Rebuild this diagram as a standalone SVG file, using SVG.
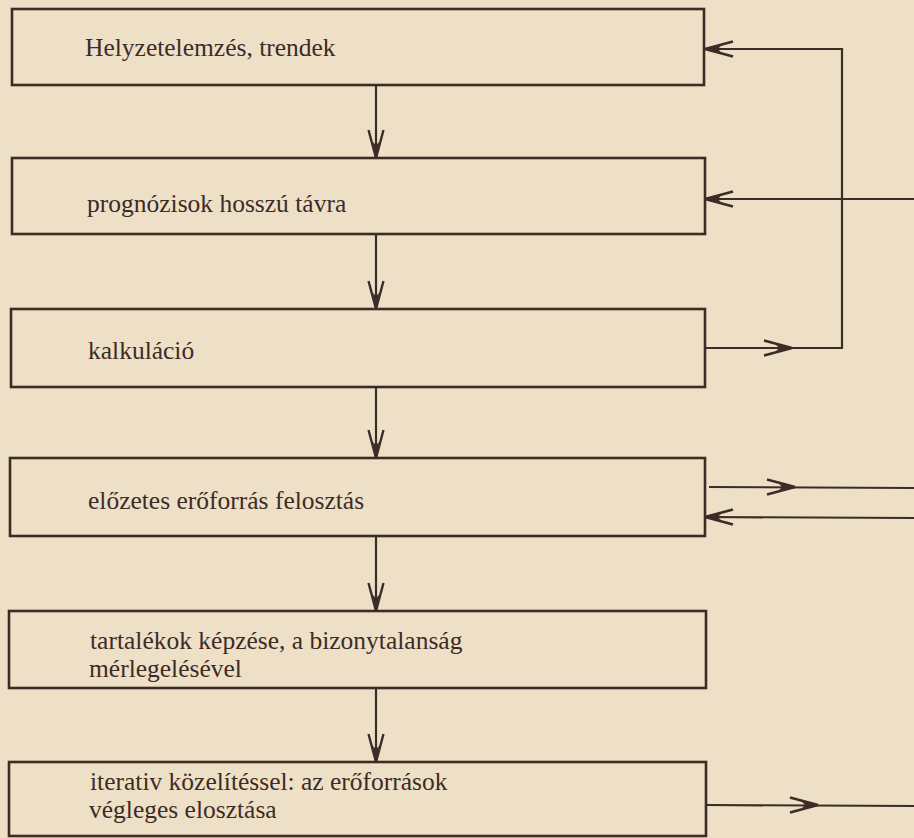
<svg xmlns="http://www.w3.org/2000/svg" width="914" height="838" viewBox="0 0 914 838">
<style>
.box{fill:none;stroke:#3d2b26;stroke-width:2.6}
.lbl{font-family:"Liberation Serif","Times New Roman","DejaVu Serif",serif;font-size:25.5px;fill:#3d2b26}
.ln{fill:none;stroke:#3d2b26;stroke-width:2.2}
.ah{fill:none;stroke:#3d2b26;stroke-width:2.4;stroke-linejoin:miter}
.ahf{fill:#3d2b26}
</style>
<defs>
<g id="arr">
<path class="ah" d="M0,0 L-28,-7.5 M0,0 L-28,7.5"/>
<path class="ahf" d="M0,0 L-16,-3.2 L-13,0 L-16,3.2 Z"/>
</g>
</defs>
<rect width="914" height="838" fill="#ede0c7"/>
<g id="connectors">
<line class="ln" x1="376" y1="85" x2="376" y2="158"/>
<use href="#arr" transform="translate(376,158) rotate(90)"/>
<line class="ln" x1="376" y1="234" x2="376" y2="309"/>
<use href="#arr" transform="translate(376,309) rotate(90)"/>
<line class="ln" x1="376" y1="387" x2="376" y2="458"/>
<use href="#arr" transform="translate(376,458) rotate(90)"/>
<line class="ln" x1="376" y1="536" x2="376" y2="611"/>
<use href="#arr" transform="translate(376,611) rotate(90)"/>
<line class="ln" x1="376" y1="688" x2="376" y2="762"/>
<use href="#arr" transform="translate(376,762) rotate(90)"/>
<polyline class="ln" points="705,348 842,348 842,49 705,49"/>
<use href="#arr" transform="translate(792,348)"/>
<use href="#arr" transform="translate(705,49) rotate(180)"/>
<line class="ln" x1="914" y1="199" x2="705" y2="199"/>
<use href="#arr" transform="translate(705,199) rotate(180)"/>
<line class="ln" x1="709" y1="487" x2="914" y2="488"/>
<use href="#arr" transform="translate(795,487)"/>
<line class="ln" x1="914" y1="518" x2="705" y2="517"/>
<use href="#arr" transform="translate(705,517) rotate(180)"/>
<line class="ln" x1="706" y1="805" x2="914" y2="806"/>
<use href="#arr" transform="translate(818,805)"/>
</g>
<g id="n1"><rect class="box" x="12" y="9" width="692" height="76"/><text class="lbl" x="85" y="56">Helyzetelemzés,  trendek</text></g>
<g id="n2"><rect class="box" x="12" y="158" width="693" height="76"/><text class="lbl" x="87" y="212">prognózisok hosszú távra</text></g>
<g id="n3"><rect class="box" x="11" y="309" width="694" height="78"/><text class="lbl" x="88" y="359">kalkuláció</text></g>
<g id="n4"><rect class="box" x="10" y="458" width="695" height="78"/><text class="lbl" x="88" y="509">előzetes erőforrás felosztás</text></g>
<g id="n5"><rect class="box" x="9" y="611" width="697" height="77"/><text class="lbl" x="90" y="649">tartalékok képzése, a bizonytalanság</text><text class="lbl" x="89" y="677">mérlegelésével</text></g>
<g id="n6"><rect class="box" x="9" y="762" width="697" height="74"/><text class="lbl" x="90" y="790">iterativ közelítéssel: az erőforrások</text><text class="lbl" x="89" y="818">végleges elosztása</text></g>
</svg>
